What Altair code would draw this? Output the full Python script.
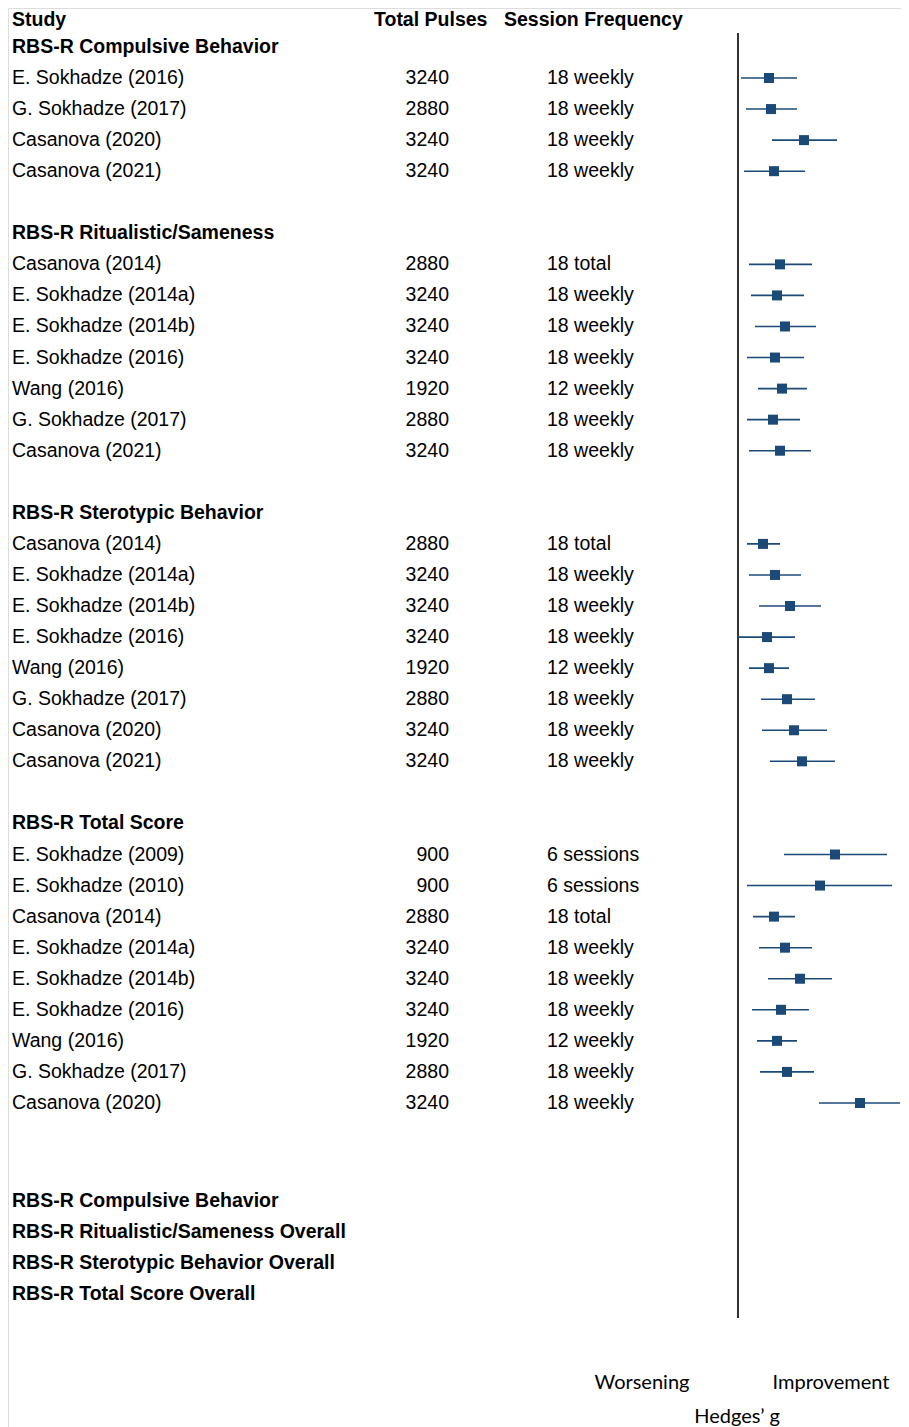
import altair as alt
import pandas as pd

# ---- data ----
sections = [
    "RBS-R Compulsive Behavior",
    "RBS-R Ritualistic/Sameness",
    "RBS-R Sterotypic Behavior",
    "RBS-R Total Score",
]

comp_study = ["E. Sokhadze (2016)", "G. Sokhadze (2017)", "Casanova (2020)", "Casanova (2021)"]
comp_pulses = ["3240", "2880", "3240", "3240"]
comp_freq = ["18 weekly", "18 weekly", "18 weekly", "18 weekly"]
comp_g = [0.31, 0.33, 0.66, 0.36]
comp_lo = [0.03, 0.08, 0.34, 0.06]
comp_hi = [0.59, 0.59, 0.99, 0.67]

rit_study = ["Casanova (2014)", "E. Sokhadze (2014a)", "E. Sokhadze (2014b)", "E. Sokhadze (2016)",
             "Wang (2016)", "G. Sokhadze (2017)", "Casanova (2021)"]
rit_pulses = ["2880", "3240", "3240", "3240", "1920", "2880", "3240"]
rit_freq = ["18 total", "18 weekly", "18 weekly", "18 weekly", "12 weekly", "18 weekly", "18 weekly"]
rit_g = [0.42, 0.39, 0.47, 0.37, 0.44, 0.35, 0.42]
rit_lo = [0.11, 0.13, 0.17, 0.09, 0.20, 0.09, 0.11]
rit_hi = [0.74, 0.66, 0.78, 0.66, 0.69, 0.62, 0.73]

ster_study = ["Casanova (2014)", "E. Sokhadze (2014a)", "E. Sokhadze (2014b)", "E. Sokhadze (2016)",
              "Wang (2016)", "G. Sokhadze (2017)", "Casanova (2020)", "Casanova (2021)"]
ster_pulses = ["2880", "3240", "3240", "3240", "1920", "2880", "3240", "3240"]
ster_freq = ["18 total", "18 weekly", "18 weekly", "18 weekly", "12 weekly", "18 weekly", "18 weekly", "18 weekly"]
ster_g = [0.25, 0.37, 0.52, 0.29, 0.31, 0.49, 0.56, 0.64]
ster_lo = [0.09, 0.11, 0.21, -0.01, 0.11, 0.23, 0.24, 0.32]
ster_hi = [0.42, 0.63, 0.83, 0.57, 0.51, 0.77, 0.89, 0.97]

tot_study = ["E. Sokhadze (2009)", "E. Sokhadze (2010)", "Casanova (2014)", "E. Sokhadze (2014a)",
             "E. Sokhadze (2014b)", "E. Sokhadze (2016)", "Wang (2016)", "G. Sokhadze (2017)", "Casanova (2020)"]
tot_pulses = ["900", "900", "2880", "3240", "3240", "3240", "1920", "2880", "3240"]
tot_freq = ["6 sessions", "6 sessions", "18 total", "18 weekly", "18 weekly", "18 weekly", "12 weekly",
            "18 weekly", "18 weekly"]
tot_g = [0.97, 0.82, 0.36, 0.47, 0.62, 0.43, 0.39, 0.49, 1.22]
tot_lo = [0.46, 0.09, 0.15, 0.21, 0.30, 0.14, 0.19, 0.22, 0.81]
tot_hi = [1.49, 1.54, 0.57, 0.74, 0.94, 0.71, 0.59, 0.76, 1.62]

overall_labels = [
    "RBS-R Compulsive Behavior",
    "RBS-R Ritualistic/Sameness Overall",
    "RBS-R Sterotypic Behavior Overall",
    "RBS-R Total Score Overall",
]

groups = [
    (comp_study, comp_pulses, comp_freq, comp_g, comp_lo, comp_hi),
    (rit_study, rit_pulses, rit_freq, rit_g, rit_lo, rit_hi),
    (ster_study, ster_pulses, ster_freq, ster_g, ster_lo, ster_hi),
    (tot_study, tot_pulses, tot_freq, tot_g, tot_lo, tot_hi),
]

# ---- build tables (row = line index in the table layout) ----
study_rows = []
header_rows = []
r = 1
for name, (st, pu, fr, g, lo, hi) in zip(sections, groups):
    header_rows.append({"row": r, "label": name})
    r += 1
    for i in range(len(st)):
        study_rows.append({"row": r, "study": st[i], "pulses": pu[i], "freq": fr[i],
                           "g": g[i], "lo": lo[i], "hi": hi[i]})
        r += 1
    r += 1
r += 1.15
for lab in overall_labels:
    header_rows.append({"row": r, "label": lab})
    r += 1

studies = pd.DataFrame(study_rows)
headers = pd.DataFrame(header_rows)
colhead = pd.DataFrame({"row": [0]})
zero = pd.DataFrame({"g": [0.0]})

W, H = 893, 1419
xs = alt.Scale(domain=[-7.30, 1.63], nice=False, zero=False)
ys = alt.Scale(domain=[-0.2537, 45.432], nice=False, zero=False, reverse=True)
X = lambda f: alt.X(f, scale=xs, axis=None)
Y = alt.Y("row:Q", scale=ys, axis=None)

FONT = "Liberation Sans"
FS = 19.5
BLUE = "#1c4a78"

base_text = dict(font=FONT, fontSize=FS, baseline="middle", color="black")

study_txt = alt.Chart(studies).mark_text(align="left", dy=0, **base_text).encode(
    x=alt.value(4), y=Y, text="study:N")
pulse_txt = alt.Chart(studies).mark_text(align="right", dy=0, **base_text).encode(
    x=alt.value(441), y=Y, text="pulses:N")
freq_txt = alt.Chart(studies).mark_text(align="left", dy=0, **base_text).encode(
    x=alt.value(539), y=Y, text="freq:N")
head_txt = alt.Chart(headers).mark_text(align="left", fontWeight="bold", dy=0, **base_text).encode(
    x=alt.value(4), y=Y, text="label:N")

col1 = alt.Chart(colhead).mark_text(align="left", fontWeight="bold", text="Study", dy=4, **base_text).encode(
    x=alt.value(4), y=Y)
col2 = alt.Chart(colhead).mark_text(align="left", fontWeight="bold", text="Total Pulses", dy=4, **base_text).encode(
    x=alt.value(366), y=Y)
col3 = alt.Chart(colhead).mark_text(align="left", fontWeight="bold", text="Session Frequency", dy=4,
                                    **base_text).encode(x=alt.value(496), y=Y)

zero_rule = alt.Chart(zero).mark_rule(color="black", strokeWidth=1.6).encode(
    x=X("g:Q"), y=alt.value(25), y2=alt.value(1310))

whisk = alt.Chart(studies).mark_rule(color=BLUE, strokeWidth=1.6).encode(
    x=X("lo:Q"), x2="hi:Q", y=Y)
boxes = alt.Chart(studies).mark_square(color=BLUE, opacity=1, size=100).encode(
    x=X("g:Q"), y=Y)

lab_font = dict(font="Lato", fontSize=20, baseline="alphabetic", color="black", align="center")
worse = alt.Chart(zero).mark_text(text="Worsening", **lab_font).encode(
    x=alt.value(634), y=alt.value(1381))
impr = alt.Chart(zero).mark_text(text="Improvement", **lab_font).encode(
    x=alt.value(823), y=alt.value(1381))
hedges = alt.Chart(zero).mark_text(text="Hedges\u2019 g", **lab_font).encode(
    x=alt.value(729), y=alt.value(1415))

chart = alt.layer(
    zero_rule, whisk, boxes, study_txt, pulse_txt, freq_txt, head_txt,
    col1, col2, col3, worse, impr, hedges
).properties(
    width=W, height=H, autosize=alt.AutoSizeParams(type="none"), padding=0
).configure_view(strokeWidth=0, stroke="transparent").configure(background="white")

chart.save("out.html", embed_options={"renderer": "svg", "actions": False})
